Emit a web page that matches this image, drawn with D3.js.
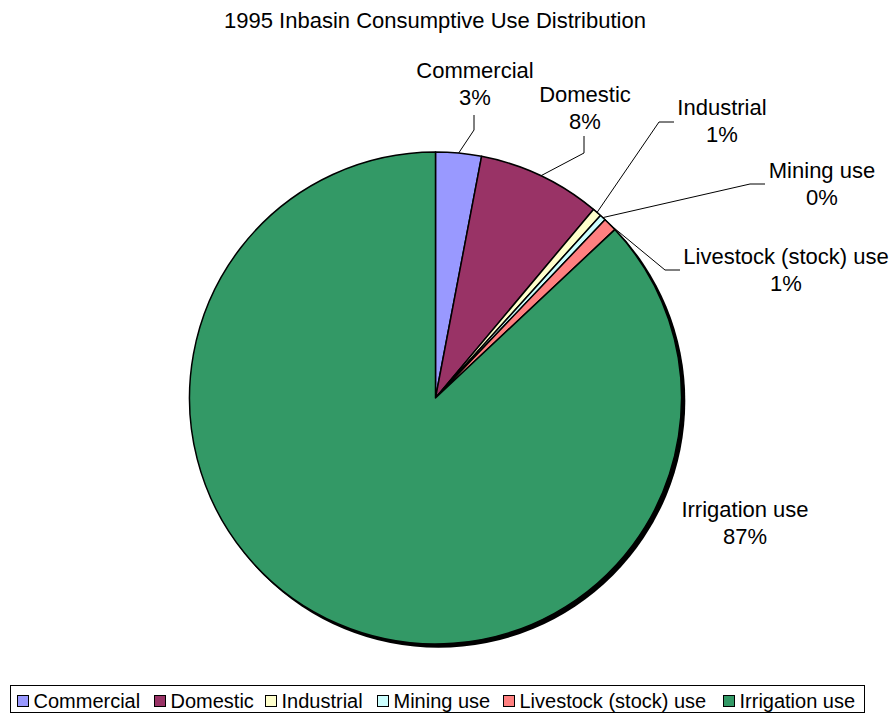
<!DOCTYPE html>
<html>
<head>
<meta charset="utf-8">
<script src="https://cdn.jsdelivr.net/npm/d3@7"></script>
<style>
  html, body { margin: 0; padding: 0; background: #fff; }
  svg { display: block; }
  text { font-family: "Liberation Sans", Arial, sans-serif; fill: #000; }
</style>
</head>
<body>
<svg id="chart" width="893" height="714"></svg>
<script>
// Consumptive use shares (percent), 1995
const categories = ["Commercial", "Domestic", "Industrial", "Mining use", "Livestock (stock) use", "Irrigation use"];
const shares = [3.0, 8.1, 0.6, 0.4, 0.9, 87.0];
const percentLabels = ["3%", "8%", "1%", "0%", "1%", "87%"];
const colors = ["#9999FF", "#993366", "#FFFFCC", "#CCFFFF", "#FF8080", "#339966"];

const title = "1995 Inbasin Consumptive Use Distribution";

// Label placement: text centre, and leader path bend/end points (null = no leader)
const labelLayout = [
  { x: 475, y: 70,  leader: [[474, 130], [474, 115]] },
  { x: 585, y: 94,  leader: [[584, 153], [584, 136]] },
  { x: 722, y: 107, leader: [[659, 122], [674, 122]] },
  { x: 822, y: 170, leader: [[750, 184], [765, 184]] },
  { x: 786, y: 256, leader: [[665, 270], [680, 270]] },
  { x: 745, y: 509, leader: null }
];

// Legend key x positions
const legendKeyX = [17, 154, 265, 377, 503, 723];

const svg = d3.select("#chart");
const cx = 435.5, cy = 398, R = 246;

svg.append("text")
  .attr("x", 435).attr("y", 28)
  .attr("text-anchor", "middle")
  .style("font-size", "22px")
  .text(title);

const data = categories.map((c, i) => ({ name: c, value: shares[i], label: percentLabels[i], color: colors[i], layout: labelLayout[i] }));

const pie = d3.pie().value(d => d.value).sort(null).startAngle(0).endAngle(2 * Math.PI);
const arcs = pie(data);
const arcGen = d3.arc().innerRadius(0).outerRadius(R);

const g = svg.append("g").attr("transform", `translate(${cx},${cy})`);

// drop shadow
g.append("circle")
  .attr("cx", 3).attr("cy", 3).attr("r", R + 0.8)
  .attr("fill", "#000");

g.selectAll("path.slice")
  .data(arcs)
  .join("path")
  .attr("class", "slice")
  .attr("d", arcGen)
  .attr("fill", d => d.data.color)
  .attr("stroke", "#000")
  .attr("stroke-width", 1.5)
  .attr("stroke-linejoin", "round");

// leader lines
arcs.forEach(a => {
  const L = a.data.layout.leader;
  if (!L) return;
  const mid = (a.startAngle + a.endAngle) / 2;
  const sx = cx + R * Math.sin(mid), sy = cy - R * Math.cos(mid);
  const pts = [[sx, sy]].concat(L);
  svg.append("path")
    .attr("d", d3.line()(pts))
    .attr("fill", "none")
    .attr("stroke", "#000")
    .attr("stroke-width", 1);
});

// data labels
arcs.forEach(a => {
  const lay = a.data.layout;
  const t = svg.append("text")
    .attr("text-anchor", "middle")
    .style("font-size", "22px");
  t.append("tspan").attr("x", lay.x).attr("y", lay.y + 8).text(a.data.name);
  t.append("tspan").attr("x", lay.x).attr("y", lay.y + 35).text(a.data.label);
});

// legend
const legend = svg.append("g");
legend.append("rect")
  .attr("x", 10.5).attr("y", 685.5)
  .attr("width", 854).attr("height", 27)
  .attr("fill", "#fff").attr("stroke", "#000").attr("stroke-width", 1);

data.forEach((d, i) => {
  const lx = legendKeyX[i];
  legend.append("rect")
    .attr("x", lx + 0.5).attr("y", 695.5)
    .attr("width", 11).attr("height", 11)
    .attr("fill", d.color).attr("stroke", "#000").attr("stroke-width", 1);
  legend.append("text")
    .attr("x", lx + 16.5).attr("y", 707.5)
    .style("font-size", "20px")
    .text(d.name);
});
</script>
</body>
</html>
